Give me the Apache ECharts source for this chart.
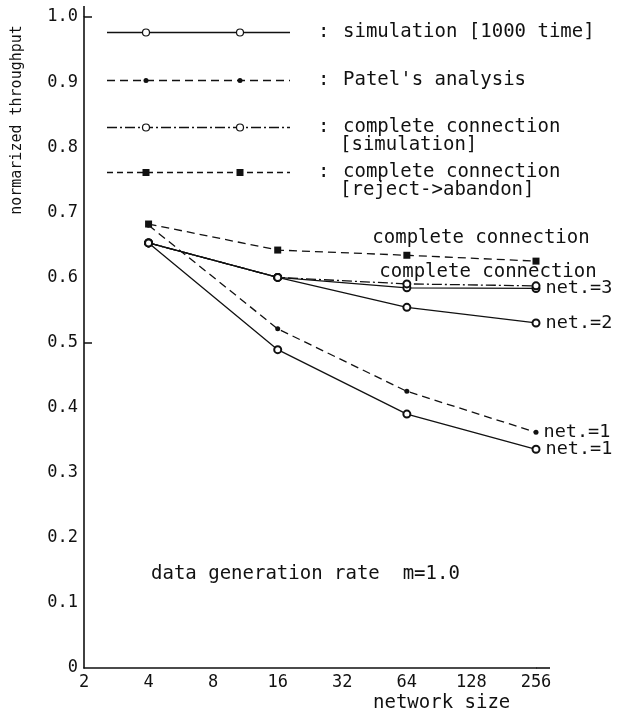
<!DOCTYPE html>
<html>
<head>
<meta charset="utf-8">
<script src="https://cdn.jsdelivr.net/npm/echarts@6/dist/echarts.min.js"></script>
<style>
  html, body { margin: 0; padding: 0; background: #fff; }
  #chart { width: 629px; height: 713px; }
</style>
</head>
<body>
<div id="chart"></div>
<script>
// network sizes on the x axis (log2 spaced)
const xTicks = ['2', '4', '8', '16', '32', '64', '128', '256'];
const sizes = ['4', '16', '64', '256'];

// normalized throughput
const simNet1 = [0.653, 0.489, 0.39, 0.336];
const patelNet1 = [0.68, 0.521, 0.425, 0.362];
const simNet2 = [0.653, 0.6, 0.554, 0.53];
const simNet3 = [0.653, 0.6, 0.584, 0.583];
const ccSim = [0.653, 0.6, 0.59, 0.587];
const ccReject = [0.682, 0.642, 0.634, 0.625];

const endLabels = {
  simNet1: 'net.=1',
  patelNet1: 'net.=1',
  simNet2: 'net.=2',
  simNet3: 'net.=3'
};

const FONT = 'DejaVu Sans Mono';
const INK = '#111';

const chartDom = document.getElementById('chart');
const myChart = echarts.init(chartDom);

function build(vals, label, labelOpt) {
  return vals.map((v, i) => {
    if (i === vals.length - 1 && label) {
      return {
        value: [sizes[i], v],
        label: Object.assign({
          show: true,
          formatter: label,
          position: 'right',
          distance: 5,
          fontFamily: FONT,
          fontSize: 18.5,
          color: INK
        }, labelOpt || {})
      };
    }
    return [sizes[i], v];
  });
}

const solid = { color: INK, width: 1.3, type: 'solid' };
const dashed = { color: INK, width: 1.3, type: [8, 5] };
const dashDot = { color: INK, width: 1.3, type: [10, 3, 2, 3] };

const option = {
  animation: false,
  backgroundColor: '#fff',
  grid: { left: 84, right: 93, top: 17, bottom: 45 },
  xAxis: {
    type: 'category',
    data: xTicks,
    boundaryGap: false,
    axisLine: { lineStyle: { color: INK, width: 1.6 } },
    axisTick: { show: false },
    axisLabel: { fontFamily: FONT, fontSize: 17, color: INK, margin: 6 },
    splitLine: { show: false }
  },
  yAxis: {
    type: 'value',
    min: 0,
    max: 1,
    interval: 0.1,
    axisLine: { show: true, lineStyle: { color: INK, width: 1.6 } },
    axisTick: { show: true, inside: true, length: 8, customValues: [0.5, 1.0], lineStyle: { color: INK, width: 1.5 } },
    axisLabel: {
      fontFamily: FONT, fontSize: 17, color: INK, margin: 6,
      formatter: v => (v === 0 ? '0' : v.toFixed(1))
    },
    splitLine: { show: false }
  },
  series: [
    {
      name: 'sim net1', type: 'line', data: build(simNet1, endLabels.simNet1),
      symbol: 'emptyCircle', symbolSize: 7, lineStyle: solid,
      itemStyle: { color: INK, borderColor: INK, borderWidth: 1.2 }
    },
    {
      name: 'patel net1', type: 'line', data: build(patelNet1, endLabels.patelNet1),
      symbol: 'circle', symbolSize: 5, lineStyle: dashed,
      itemStyle: { color: INK }
    },
    {
      name: 'sim net2', type: 'line', data: build(simNet2, endLabels.simNet2),
      symbol: 'emptyCircle', symbolSize: 7, lineStyle: solid,
      itemStyle: { color: INK, borderColor: INK, borderWidth: 1.2 }
    },
    {
      name: 'sim net3', type: 'line', data: build(simNet3, endLabels.simNet3),
      symbol: 'emptyCircle', symbolSize: 7, lineStyle: solid,
      itemStyle: { color: INK, borderColor: INK, borderWidth: 1.2 }
    },
    {
      name: 'cc sim', type: 'line',
      data: build(ccSim, 'complete connection', { fontSize: 19, position: 'top', offset: [-48, 2], distance: 2 }),
      symbol: 'emptyCircle', symbolSize: 7, lineStyle: dashDot,
      itemStyle: { color: INK, borderColor: INK, borderWidth: 1.2 }
    },
    {
      name: 'cc reject', type: 'line',
      data: build(ccReject, 'complete connection', { fontSize: 19, position: 'top', offset: [-55, -6], distance: 4 }),
      symbol: 'rect', symbolSize: 7, lineStyle: dashed,
      itemStyle: { color: INK }
    }
  ]
};

myChart.setOption(option);

// hand-drawn style legend in the upper part of the plot
function legendRow(y, dash, symbol, lines) {
  const els = [
    { type: 'line', shape: { x1: 107, y1: y + 0.5, x2: 290, y2: y + 0.5 },
      style: { stroke: INK, lineWidth: 1.3, lineDash: dash } }
  ];
  [146, 240].forEach(x => {
    if (symbol === 'rect') {
      els.push({ type: 'rect', shape: { x: x - 3.5, y: y - 3, width: 7, height: 7 }, style: { fill: INK } });
    } else if (symbol === 'dot') {
      els.push({ type: 'circle', shape: { cx: x, cy: y + 0.5, r: 2.5 }, style: { fill: INK } });
    } else {
      els.push({ type: 'circle', shape: { cx: x, cy: y + 0.5, r: 3.5 }, style: { fill: '#fff', stroke: INK, lineWidth: 1.2 } });
    }
  });
  els.push({ type: 'text', x: 318, y: y, style: { text: ':', font: '19px ' + FONT, fill: INK, verticalAlign: 'middle' } });
  lines.forEach((t, i) => {
    els.push({ type: 'text', x: i ? 340 : 343, y: y + i * 18, style: { text: t, font: '19px ' + FONT, fill: INK, verticalAlign: 'middle' } });
  });
  return els;
}

const legendEls = [].concat(
  legendRow(32, null, 'open', ['simulation [1000 time]']),
  legendRow(80, [8, 5], 'dot', ["Patel's analysis"]),
  legendRow(127, [10, 3, 2, 3], 'open', ['complete connection', '[simulation]']),
  legendRow(172, [6, 4], 'rect', ['complete connection', '[reject->abandon]'])
);

// axis lines in the original run a little past the last tick
const origin = myChart.convertToPixel({ xAxisIndex: 0, yAxisIndex: 0 }, ['2', 0]);
const xEnd = myChart.convertToPixel({ xAxisIndex: 0, yAxisIndex: 0 }, ['256', 0]);
const yEnd = myChart.convertToPixel({ xAxisIndex: 0, yAxisIndex: 0 }, ['2', 1]);

myChart.setOption({
  graphic: legendEls.concat([
    { type: 'line', shape: { x1: xEnd[0], y1: xEnd[1], x2: xEnd[0] + 14, y2: xEnd[1] }, style: { stroke: INK, lineWidth: 1.6 } },
    { type: 'line', shape: { x1: origin[0], y1: yEnd[1], x2: origin[0], y2: yEnd[1] - 11 }, style: { stroke: INK, lineWidth: 1.6 } },
    {
      type: 'text', x: 17, y: 120, rotation: Math.PI / 2,
      style: { text: 'normarized throughput', font: '15px ' + FONT, fill: INK, align: 'center', verticalAlign: 'middle' }
    },
    {
      type: 'text', x: 373, y: 703,
      style: { text: 'network size', font: '19px ' + FONT, fill: INK, verticalAlign: 'middle' }
    },
    {
      type: 'text', x: 151, y: 574,
      style: { text: 'data generation rate  m=1.0', font: '19px ' + FONT, fill: INK, verticalAlign: 'middle' }
    }
  ])
});

window.addEventListener('resize', () => myChart.resize());
</script>
</body>
</html>
